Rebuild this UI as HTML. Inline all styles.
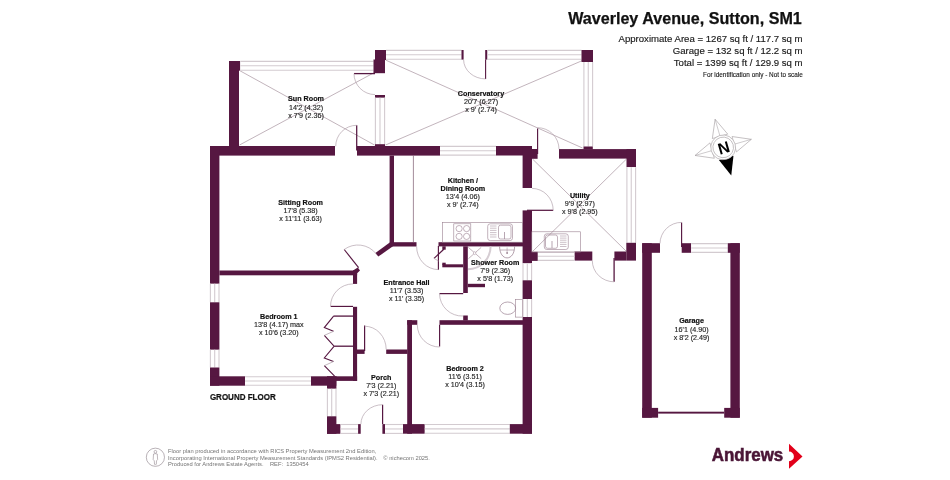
<!DOCTYPE html>
<html><head><meta charset="utf-8"><style>
html,body{margin:0;padding:0;background:#fff;}
body{width:950px;height:480px;overflow:hidden;}
svg{display:block;will-change:transform;}
.b{font:bold 7.2px "Liberation Sans",sans-serif;fill:#111111;text-anchor:middle;stroke:#111111;stroke-width:0.18px;}
.r{font:7.2px "Liberation Sans",sans-serif;fill:#262626;text-anchor:middle;stroke:#262626;stroke-width:0.15px;}
.gf{font:bold 8.6px "Liberation Sans",sans-serif;fill:#111;stroke:#111;stroke-width:0.2px;}
</style></head><body>
<svg width="950" height="480" viewBox="0 0 950 480">
<rect width="950" height="480" fill="#fff"/>
<line x1="239.5" y1="70.5" x2="374.5" y2="145" stroke="#a8949f" stroke-width="0.7"/>
<line x1="239.5" y1="145" x2="373.5" y2="73" stroke="#a8949f" stroke-width="0.7"/>
<line x1="385.5" y1="60" x2="582.5" y2="148" stroke="#a8949f" stroke-width="0.7"/>
<line x1="385.5" y1="145" x2="582.5" y2="60.5" stroke="#a8949f" stroke-width="0.7"/>
<line x1="532.5" y1="159" x2="626.5" y2="251.5" stroke="#a8949f" stroke-width="0.7"/>
<line x1="626.5" y1="159" x2="532.5" y2="251.5" stroke="#a8949f" stroke-width="0.7"/>
<rect x="229" y="61" width="10" height="85" fill="#561741"/>
<rect x="229" y="61" width="11.3" height="9.6" fill="#561741"/>
<rect x="240.3" y="61" width="133.2" height="9.6" fill="#fff"/>
<line x1="240.3" y1="61.4" x2="373.5" y2="61.4" stroke="#d3cbd0" stroke-width="1.1"/>
<line x1="240.3" y1="65.8" x2="373.5" y2="65.8" stroke="#d3cbd0" stroke-width="1.1"/>
<line x1="240.3" y1="70.19999999999999" x2="373.5" y2="70.19999999999999" stroke="#d3cbd0" stroke-width="1.1"/>
<rect x="375" y="50" width="11" height="10" fill="#561741"/>
<rect x="373.5" y="59.5" width="11.5" height="13.7" fill="#561741"/>
<line x1="354" y1="73.6" x2="375" y2="73.6" stroke="#561741" stroke-width="1.3"/>
<path d="M354,73.6 A21,21 0 0 0 375,94.6" stroke="#b3a3ad" stroke-width="0.7" fill="none"/>
<rect x="375" y="95" width="10" height="2.8" fill="#561741"/>
<rect x="375" y="97.8" width="10" height="46.6" fill="#fff"/>
<line x1="375.4" y1="97.8" x2="375.4" y2="144.4" stroke="#d3cbd0" stroke-width="1.1"/>
<line x1="380.0" y1="97.8" x2="380.0" y2="144.4" stroke="#d3cbd0" stroke-width="1.1"/>
<line x1="384.6" y1="97.8" x2="384.6" y2="144.4" stroke="#d3cbd0" stroke-width="1.1"/>
<rect x="375" y="144.2" width="10" height="2.0" fill="#561741"/>
<rect x="386" y="50" width="75.5" height="9.6" fill="#fff"/>
<line x1="386" y1="50.4" x2="461.5" y2="50.4" stroke="#d3cbd0" stroke-width="1.1"/>
<line x1="386" y1="54.8" x2="461.5" y2="54.8" stroke="#d3cbd0" stroke-width="1.1"/>
<line x1="386" y1="59.2" x2="461.5" y2="59.2" stroke="#d3cbd0" stroke-width="1.1"/>
<rect x="461.5" y="50" width="2.1" height="9.6" fill="#561741"/>
<rect x="485.2" y="50" width="2.3" height="9.6" fill="#561741"/>
<rect x="487.5" y="50" width="94.0" height="9.6" fill="#fff"/>
<line x1="487.5" y1="50.4" x2="581.5" y2="50.4" stroke="#d3cbd0" stroke-width="1.1"/>
<line x1="487.5" y1="54.8" x2="581.5" y2="54.8" stroke="#d3cbd0" stroke-width="1.1"/>
<line x1="487.5" y1="59.2" x2="581.5" y2="59.2" stroke="#d3cbd0" stroke-width="1.1"/>
<line x1="485.6" y1="59.6" x2="485.6" y2="78.9" stroke="#561741" stroke-width="1.1"/>
<path d="M463.6,59.6 A22,19.3 0 0 0 485.6,78.9" stroke="#b3a3ad" stroke-width="0.7" fill="none"/>
<rect x="581.5" y="50" width="11.5" height="12" fill="#561741"/>
<rect x="583.5" y="62" width="9.5" height="84.6" fill="#fff"/>
<line x1="583.9" y1="62" x2="583.9" y2="146.6" stroke="#d3cbd0" stroke-width="1.1"/>
<line x1="588.25" y1="62" x2="588.25" y2="146.6" stroke="#d3cbd0" stroke-width="1.1"/>
<line x1="592.6" y1="62" x2="592.6" y2="146.6" stroke="#d3cbd0" stroke-width="1.1"/>
<rect x="583.5" y="146.5" width="9.3" height="2.9" fill="#561741"/>
<rect x="210" y="146" width="125" height="9.6" fill="#561741"/>
<rect x="357" y="146" width="83" height="9.6" fill="#561741"/>
<line x1="356.7" y1="125.3" x2="356.7" y2="150.6" stroke="#561741" stroke-width="1.25"/>
<path d="M356.7,125.3 A21,21 0 0 0 335.7,146.3" stroke="#b3a3ad" stroke-width="0.7" fill="none"/>
<rect x="440" y="146" width="56" height="9.5" fill="#fff"/>
<line x1="440" y1="146.4" x2="496" y2="146.4" stroke="#d3cbd0" stroke-width="1.1"/>
<line x1="440" y1="150.75" x2="496" y2="150.75" stroke="#d3cbd0" stroke-width="1.1"/>
<line x1="440" y1="155.1" x2="496" y2="155.1" stroke="#d3cbd0" stroke-width="1.1"/>
<rect x="496" y="146" width="36" height="9.5" fill="#561741"/>
<rect x="532" y="149" width="5.6" height="9.8" fill="#561741"/>
<line x1="537.6" y1="128.5" x2="537.6" y2="154" stroke="#561741" stroke-width="1.15"/>
<path d="M537.6,127.7 A21.4,21.4 0 0 1 559,149.1" stroke="#b3a3ad" stroke-width="0.7" fill="none"/>
<rect x="559" y="149.1" width="77" height="9.5" fill="#561741"/>
<rect x="626.5" y="149.1" width="9.5" height="18.1" fill="#561741"/>
<rect x="626.5" y="167.2" width="9.5" height="75.6" fill="#fff"/>
<line x1="626.9" y1="167.2" x2="626.9" y2="242.8" stroke="#d3cbd0" stroke-width="1.1"/>
<line x1="631.25" y1="167.2" x2="631.25" y2="242.8" stroke="#d3cbd0" stroke-width="1.1"/>
<line x1="635.6" y1="167.2" x2="635.6" y2="242.8" stroke="#d3cbd0" stroke-width="1.1"/>
<rect x="626.3" y="242.8" width="9.7" height="17.8" fill="#561741"/>
<rect x="614.4" y="251.5" width="11.9" height="9.1" fill="#561741"/>
<rect x="574.4" y="251.5" width="17.9" height="9.1" fill="#561741"/>
<line x1="614.1" y1="258" x2="614.1" y2="281.8" stroke="#561741" stroke-width="1.3"/>
<path d="M592.3,260.6 A21.8,21.2 0 0 0 614.1,281.8" stroke="#b3a3ad" stroke-width="0.7" fill="none"/>
<rect x="537.7" y="251.8" width="36.7" height="9.0" fill="#fff"/>
<line x1="537.7" y1="252.20000000000002" x2="574.4" y2="252.20000000000002" stroke="#d3cbd0" stroke-width="1.1"/>
<line x1="537.7" y1="256.3" x2="574.4" y2="256.3" stroke="#d3cbd0" stroke-width="1.1"/>
<line x1="537.7" y1="260.40000000000003" x2="574.4" y2="260.40000000000003" stroke="#d3cbd0" stroke-width="1.1"/>
<rect x="531.6" y="251.8" width="6.1" height="9.1" fill="#561741"/>
<rect x="522.6" y="146" width="9.4" height="42" fill="#561741"/>
<rect x="522.6" y="210.4" width="9.4" height="53.0" fill="#561741"/>
<line x1="527" y1="210.3" x2="553.2" y2="210.3" stroke="#561741" stroke-width="1.25"/>
<path d="M532,188.4 A21.2,21.9 0 0 1 553.2,210.3" stroke="#b3a3ad" stroke-width="0.7" fill="none"/>
<rect x="389.6" y="155.6" width="4.4" height="88.9" fill="#561741"/>
<rect x="390" y="242.2" width="26.5" height="4.3" fill="#561741"/>
<polygon points="390.1,242.3 394,242.3 394,245.5 378.3,256.6 375.4,253.0" fill="#561741"/>
<polygon points="353,270.4 357.8,267.4 360,270.4 357.1,273.2 357.1,275.3 353,275.3" fill="#561741"/>
<line x1="344.2" y1="249.5" x2="358.6" y2="267.6" stroke="#561741" stroke-width="1.15"/>
<path d="M344.2,249.5 A23.2,23.2 0 0 1 375.9,253.5" stroke="#b3a3ad" stroke-width="0.7" fill="none"/>
<rect x="438.5" y="242.2" width="93.5" height="4.2" fill="#561741"/>
<line x1="438.4" y1="246" x2="438.4" y2="269.8" stroke="#561741" stroke-width="1.15"/>
<path d="M416.6,246.4 A21.8,23.2 0 0 0 438.4,269.6" stroke="#b3a3ad" stroke-width="0.7" fill="none"/>
<rect x="442.3" y="246.3" width="3.4" height="3.4" fill="#561741"/>
<rect x="442.3" y="262.7" width="3.4" height="2.3" fill="#561741"/>
<rect x="442.3" y="264.3" width="20.9" height="3.0" fill="#561741"/>
<line x1="443.8" y1="249.3" x2="434" y2="258.4" stroke="#561741" stroke-width="1.2"/>
<line x1="434" y1="258.4" x2="438.6" y2="261" stroke="#b3a3ad" stroke-width="0.7"/>
<line x1="413.4" y1="155.6" x2="413.4" y2="242.2" stroke="#7d5a70" stroke-width="0.7"/>
<rect x="463.2" y="246.3" width="4.6" height="46.7" fill="#561741"/>
<rect x="463.2" y="315.5" width="4.6" height="5.0" fill="#561741"/>
<rect x="467.8" y="283.8" width="17.2" height="3.4" fill="#561741"/>
<rect x="522.6" y="263.4" width="9.4" height="16.9" fill="#fff"/>
<line x1="523.0" y1="263.4" x2="523.0" y2="280.3" stroke="#d3cbd0" stroke-width="1.1"/>
<line x1="527.3" y1="263.4" x2="527.3" y2="280.3" stroke="#d3cbd0" stroke-width="1.1"/>
<line x1="531.6" y1="263.4" x2="531.6" y2="280.3" stroke="#d3cbd0" stroke-width="1.1"/>
<rect x="522.6" y="280.3" width="9.4" height="18.7" fill="#561741"/>
<rect x="522.6" y="299" width="9.4" height="18" fill="#fff"/>
<line x1="523.0" y1="299" x2="523.0" y2="317" stroke="#d3cbd0" stroke-width="1.1"/>
<line x1="527.3" y1="299" x2="527.3" y2="317" stroke="#d3cbd0" stroke-width="1.1"/>
<line x1="531.6" y1="299" x2="531.6" y2="317" stroke="#d3cbd0" stroke-width="1.1"/>
<rect x="522.6" y="317" width="9.4" height="116.7" fill="#561741"/>
<line x1="439.5" y1="293.6" x2="463.2" y2="293.6" stroke="#561741" stroke-width="1.25"/>
<path d="M439.5,293.6 A22.6,22.6 0 0 0 463.2,316" stroke="#b3a3ad" stroke-width="0.7" fill="none"/>
<rect x="439.5" y="320.2" width="92.5" height="4.6" fill="#561741"/>
<rect x="407.2" y="320.2" width="4.8" height="113.5" fill="#561741"/>
<rect x="407.2" y="320.2" width="10.1" height="4.6" fill="#561741"/>
<line x1="439.6" y1="324.8" x2="439.6" y2="346.6" stroke="#561741" stroke-width="1.15"/>
<path d="M417.3,324.8 A22.2,22.2 0 0 0 439.6,347" stroke="#b3a3ad" stroke-width="0.7" fill="none"/>
<rect x="403" y="424.1" width="21.8" height="9.6" fill="#561741"/>
<rect x="424.8" y="424.1" width="85.0" height="9.6" fill="#fff"/>
<line x1="424.8" y1="424.5" x2="509.8" y2="424.5" stroke="#d3cbd0" stroke-width="1.1"/>
<line x1="424.8" y1="428.9" x2="509.8" y2="428.9" stroke="#d3cbd0" stroke-width="1.1"/>
<line x1="424.8" y1="433.3" x2="509.8" y2="433.3" stroke="#d3cbd0" stroke-width="1.1"/>
<rect x="509.8" y="424.1" width="22.2" height="9.6" fill="#561741"/>
<rect x="386.2" y="349.5" width="21.3" height="4.4" fill="#561741"/>
<rect x="353" y="349.5" width="11.6" height="4.4" fill="#561741"/>
<line x1="364.6" y1="325.6" x2="364.6" y2="351" stroke="#561741" stroke-width="1.2"/>
<path d="M364.6,326.2 A21.6,23.3 0 0 1 386.2,349.5" stroke="#b3a3ad" stroke-width="0.7" fill="none"/>
<rect x="327" y="424.1" width="13.6" height="9.7" fill="#561741"/>
<rect x="340.6" y="424.1" width="17.5" height="9.7" fill="#fff"/>
<line x1="340.6" y1="424.5" x2="358.1" y2="424.5" stroke="#d3cbd0" stroke-width="1.1"/>
<line x1="340.6" y1="428.95000000000005" x2="358.1" y2="428.95000000000005" stroke="#d3cbd0" stroke-width="1.1"/>
<line x1="340.6" y1="433.40000000000003" x2="358.1" y2="433.40000000000003" stroke="#d3cbd0" stroke-width="1.1"/>
<rect x="358.1" y="424.1" width="2.6" height="9.7" fill="#561741"/>
<line x1="382.6" y1="404.7" x2="382.6" y2="424.1" stroke="#561741" stroke-width="1.2"/>
<path d="M360.9,424.1 A21.7,19.4 0 0 1 382.6,404.7" stroke="#b3a3ad" stroke-width="0.7" fill="none"/>
<rect x="382.4" y="424.1" width="2.6" height="9.7" fill="#561741"/>
<rect x="385" y="424.1" width="18" height="9.7" fill="#fff"/>
<line x1="385" y1="424.5" x2="403" y2="424.5" stroke="#d3cbd0" stroke-width="1.1"/>
<line x1="385" y1="428.95000000000005" x2="403" y2="428.95000000000005" stroke="#d3cbd0" stroke-width="1.1"/>
<line x1="385" y1="433.40000000000003" x2="403" y2="433.40000000000003" stroke="#d3cbd0" stroke-width="1.1"/>
<rect x="327" y="376.2" width="9.4" height="12.6" fill="#561741"/>
<rect x="327" y="388.8" width="9.4" height="27.5" fill="#fff"/>
<line x1="327.4" y1="388.8" x2="327.4" y2="416.3" stroke="#d3cbd0" stroke-width="1.1"/>
<line x1="331.7" y1="388.8" x2="331.7" y2="416.3" stroke="#d3cbd0" stroke-width="1.1"/>
<line x1="336.0" y1="388.8" x2="336.0" y2="416.3" stroke="#d3cbd0" stroke-width="1.1"/>
<rect x="327" y="416.3" width="9.4" height="17.5" fill="#561741"/>
<rect x="210" y="146" width="9.4" height="137.8" fill="#561741"/>
<rect x="210" y="283.8" width="9.4" height="18.5" fill="#fff"/>
<line x1="210.4" y1="283.8" x2="210.4" y2="302.3" stroke="#d3cbd0" stroke-width="1.1"/>
<line x1="214.7" y1="283.8" x2="214.7" y2="302.3" stroke="#d3cbd0" stroke-width="1.1"/>
<line x1="219.0" y1="283.8" x2="219.0" y2="302.3" stroke="#d3cbd0" stroke-width="1.1"/>
<rect x="210" y="302.3" width="9.4" height="47.5" fill="#561741"/>
<rect x="210" y="349.8" width="9.4" height="17.7" fill="#fff"/>
<line x1="210.4" y1="349.8" x2="210.4" y2="367.5" stroke="#d3cbd0" stroke-width="1.1"/>
<line x1="214.7" y1="349.8" x2="214.7" y2="367.5" stroke="#d3cbd0" stroke-width="1.1"/>
<line x1="219.0" y1="349.8" x2="219.0" y2="367.5" stroke="#d3cbd0" stroke-width="1.1"/>
<rect x="210" y="367.5" width="9.4" height="18.2" fill="#561741"/>
<rect x="210" y="376.3" width="35" height="9.4" fill="#561741"/>
<rect x="245" y="376.3" width="66" height="9.4" fill="#fff"/>
<line x1="245" y1="376.7" x2="311" y2="376.7" stroke="#d3cbd0" stroke-width="1.1"/>
<line x1="245" y1="381.0" x2="311" y2="381.0" stroke="#d3cbd0" stroke-width="1.1"/>
<line x1="245" y1="385.3" x2="311" y2="385.3" stroke="#d3cbd0" stroke-width="1.1"/>
<rect x="311" y="376.3" width="25.3" height="9.4" fill="#561741"/>
<rect x="336" y="376.3" width="21.1" height="4.6" fill="#561741"/>
<rect x="353" y="270.4" width="4.1" height="13.5" fill="#561741"/>
<rect x="353" y="306.8" width="4.1" height="74.1" fill="#561741"/>
<rect x="219.4" y="270.5" width="133.6" height="4.8" fill="#561741"/>
<line x1="330.7" y1="306.4" x2="353" y2="306.4" stroke="#561741" stroke-width="1.15"/>
<path d="M330.5,306.4 A22.5,22.5 0 0 1 353,283.9" stroke="#b3a3ad" stroke-width="0.7" fill="none"/>
<line x1="333.5" y1="316.1" x2="353" y2="316.1" stroke="#561741" stroke-width="1.3"/>
<path d="M333.6,316.1 L324.3,327.6 L333.5,331.3 M324.3,335.4 L333.8,345.9" stroke="#561741" stroke-width="1.1" fill="none"/>
<line x1="333.5" y1="331.3" x2="324.3" y2="335.4" stroke="#b3a3ad" stroke-width="0.8"/>
<line x1="333.8" y1="346.2" x2="353" y2="346.2" stroke="#561741" stroke-width="1.3"/>
<path d="M334,346.4 L324.3,357.9 L333.5,361.5 M324.3,365.7 L334.6,376.2" stroke="#561741" stroke-width="1.1" fill="none"/>
<line x1="333.5" y1="361.5" x2="324.3" y2="365.7" stroke="#b3a3ad" stroke-width="0.8"/>
<rect x="642.2" y="243.2" width="9.6" height="174.5" fill="#561741"/>
<rect x="642.2" y="243.2" width="17.8" height="9.6" fill="#561741"/>
<rect x="681.7" y="243.2" width="9.5" height="9.6" fill="#561741"/>
<rect x="691.2" y="243.2" width="36.6" height="9.6" fill="#fff"/>
<line x1="691.2" y1="243.6" x2="727.8" y2="243.6" stroke="#d3cbd0" stroke-width="1.1"/>
<line x1="691.2" y1="248.0" x2="727.8" y2="248.0" stroke="#d3cbd0" stroke-width="1.1"/>
<line x1="691.2" y1="252.4" x2="727.8" y2="252.4" stroke="#d3cbd0" stroke-width="1.1"/>
<rect x="727.8" y="243.2" width="12.0" height="9.6" fill="#561741"/>
<rect x="730.4" y="243.2" width="9.4" height="174.5" fill="#561741"/>
<rect x="642.2" y="407.9" width="15.9" height="9.8" fill="#561741"/>
<rect x="724.2" y="407.9" width="15.6" height="9.8" fill="#561741"/>
<rect x="658.1" y="411.7" width="66.1" height="1.9" fill="#561741"/>
<line x1="681.6" y1="222.6" x2="681.6" y2="247" stroke="#561741" stroke-width="1.15"/>
<path d="M660,243.4 A21.4,21.4 0 0 1 681.6,222.4" stroke="#b3a3ad" stroke-width="0.7" fill="none"/>
<rect x="442.6" y="222.5" width="80" height="19.7" fill="none" stroke="#9a8090" stroke-width="0.6"/>
<rect x="453.8" y="223.8" width="17" height="17.2" fill="none" stroke="#9a8090" stroke-width="0.6"/>
<circle cx="459.1" cy="228.6" r="3.1" fill="none" stroke="#9a8090" stroke-width="0.6"/>
<circle cx="466.6" cy="228.6" r="3.1" fill="none" stroke="#9a8090" stroke-width="0.6"/>
<circle cx="459.1" cy="236.4" r="3.1" fill="none" stroke="#9a8090" stroke-width="0.6"/>
<circle cx="466.6" cy="236.4" r="3.1" fill="none" stroke="#9a8090" stroke-width="0.6"/>
<rect x="487.7" y="223.8" width="24.8" height="16.8" rx="2.5" fill="none" stroke="#9a8090" stroke-width="0.6"/>
<rect x="498.5" y="225.2" width="12.5" height="13.8" rx="2" fill="none" stroke="#9a8090" stroke-width="0.6"/>
<line x1="490" y1="226.0" x2="496.5" y2="226.0" stroke="#9a8090" stroke-width="0.5"/>
<line x1="490" y1="228.2" x2="496.5" y2="228.2" stroke="#9a8090" stroke-width="0.5"/>
<line x1="490" y1="230.4" x2="496.5" y2="230.4" stroke="#9a8090" stroke-width="0.5"/>
<line x1="490" y1="232.6" x2="496.5" y2="232.6" stroke="#9a8090" stroke-width="0.5"/>
<line x1="490" y1="234.8" x2="496.5" y2="234.8" stroke="#9a8090" stroke-width="0.5"/>
<line x1="490" y1="237.0" x2="496.5" y2="237.0" stroke="#9a8090" stroke-width="0.5"/>
<line x1="504.5" y1="232" x2="504.5" y2="239" stroke="#9a8090" stroke-width="0.7"/>
<rect x="531.8" y="231.8" width="48.8" height="20.2" fill="none" stroke="#9a8090" stroke-width="0.6"/>
<rect x="544.3" y="233.8" width="24" height="15.7" rx="2.5" fill="none" stroke="#9a8090" stroke-width="0.6"/>
<rect x="545.5" y="235" width="12" height="13.3" rx="2" fill="none" stroke="#9a8090" stroke-width="0.6"/>
<line x1="560" y1="236.0" x2="566.5" y2="236.0" stroke="#9a8090" stroke-width="0.5"/>
<line x1="560" y1="238.1" x2="566.5" y2="238.1" stroke="#9a8090" stroke-width="0.5"/>
<line x1="560" y1="240.2" x2="566.5" y2="240.2" stroke="#9a8090" stroke-width="0.5"/>
<line x1="560" y1="242.3" x2="566.5" y2="242.3" stroke="#9a8090" stroke-width="0.5"/>
<line x1="560" y1="244.4" x2="566.5" y2="244.4" stroke="#9a8090" stroke-width="0.5"/>
<line x1="560" y1="246.5" x2="566.5" y2="246.5" stroke="#9a8090" stroke-width="0.5"/>
<line x1="552" y1="241" x2="552" y2="248" stroke="#9a8090" stroke-width="0.7"/>
<path d="M490.6,246.5 A22.8,22.8 0 0 1 468,269.3" fill="none" stroke="#d6cdd3" stroke-width="2"/>
<path d="M468.4,247.4 L481.2,258.7 M481.2,247.4 L468.4,258.7" stroke="#9a8090" stroke-width="0.6"/>
<rect x="473.6" y="252" width="2.2" height="2.2" fill="#fff" stroke="#9a8090" stroke-width="0.5" transform="rotate(45 474.7 253.1)"/>
<path d="M499.6,246.4 C499.6,253.5 503,257.9 507.1,257.9 C511.2,257.9 514.6,253.5 514.6,246.4" fill="none" stroke="#9a8090" stroke-width="0.75"/>
<line x1="500.2" y1="250" x2="514" y2="250" stroke="#9a8090" stroke-width="0.6"/>
<line x1="507.1" y1="247.5" x2="507.1" y2="252.5" stroke="#9a8090" stroke-width="0.5"/>
<circle cx="507.1" cy="253" r="0.9" fill="#9a8090"/>
<rect x="515.6" y="299.3" width="7" height="17.8" fill="#fff" stroke="#9a8090" stroke-width="0.6"/>
<ellipse cx="507.7" cy="308.2" rx="7.9" ry="6.2" fill="none" stroke="#9a8090" stroke-width="0.7"/>
<text x="306" y="101.25" class="b">Sun Room</text>
<text x="306" y="109.5" class="r">14'2 (4.32)</text>
<text x="306" y="117.75" class="r">x 7'9 (2.36)</text>
<text x="481" y="95.8" class="b">Conservatory</text>
<text x="481" y="104.05" class="r">20'7 (6.27)</text>
<text x="481" y="112.3" class="r">x 9' (2.74)</text>
<text x="300.6" y="204.5" class="b">Sitting Room</text>
<text x="300.6" y="212.75" class="r">17'8 (5.38)</text>
<text x="300.6" y="221.0" class="r">x 11'11 (3.63)</text>
<text x="462.9" y="182.5" class="b">Kitchen /</text>
<text x="462.9" y="190.75" class="b">Dining Room</text>
<text x="462.9" y="199.0" class="r">13'4 (4.06)</text>
<text x="462.9" y="207.25" class="r">x 9' (2.74)</text>
<text x="579.9" y="197.9" class="b">Utility</text>
<text x="579.9" y="206.15" class="r">9'9 (2.97)</text>
<text x="579.9" y="214.4" class="r">x 9'8 (2.95)</text>
<text x="406.5" y="284.65" class="b">Entrance Hall</text>
<text x="406.5" y="292.9" class="r">11'7 (3.53)</text>
<text x="406.5" y="301.15" class="r">x 11' (3.35)</text>
<text x="495.2" y="264.6" class="b">Shower Room</text>
<text x="495.2" y="272.85" class="r">7'9 (2.36)</text>
<text x="495.2" y="281.1" class="r">x 5'8 (1.73)</text>
<text x="278.8" y="318.5" class="b">Bedroom 1</text>
<text x="278.8" y="326.75" class="r">13'8 (4.17) max</text>
<text x="278.8" y="335.0" class="r">x 10'6 (3.20)</text>
<text x="465" y="370.5" class="b">Bedroom 2</text>
<text x="465" y="378.75" class="r">11'6 (3.51)</text>
<text x="465" y="387.0" class="r">x 10'4 (3.15)</text>
<text x="381.25" y="379.75" class="b">Porch</text>
<text x="381.25" y="388.0" class="r">7'3 (2.21)</text>
<text x="381.25" y="396.25" class="r">x 7'3 (2.21)</text>
<text x="691.6" y="323.25" class="b">Garage</text>
<text x="691.6" y="331.5" class="r">16'1 (4.90)</text>
<text x="691.6" y="339.75" class="r">x 8'2 (2.49)</text>
<text x="209.9" y="399.6" class="gf" textLength="65.8" lengthAdjust="spacingAndGlyphs">GROUND FLOOR</text>
<g transform="translate(723.2,147.4) rotate(-16)"><g transform="rotate(0)"><polygon points="-8,-11.5 0,-29.3 8,-11.5" fill="#fff" stroke="#a6a0a3" stroke-width="0.6"/><line x1="0" y1="-29.3" x2="0" y2="-12" stroke="#a6a0a3" stroke-width="0.5"/></g><g transform="rotate(90)"><polygon points="-8,-11.5 0,-29.3 8,-11.5" fill="#fff" stroke="#a6a0a3" stroke-width="0.6"/><line x1="0" y1="-29.3" x2="0" y2="-12" stroke="#a6a0a3" stroke-width="0.5"/></g><g transform="rotate(270)"><polygon points="-8,-11.5 0,-29.3 8,-11.5" fill="#fff" stroke="#a6a0a3" stroke-width="0.6"/><line x1="0" y1="-29.3" x2="0" y2="-12" stroke="#a6a0a3" stroke-width="0.5"/></g><polygon points="-7.6,10.8 0,29.3 7.6,10.8" fill="#000"/><circle r="12.4" fill="#fff" stroke="#a6a0a3" stroke-width="0.6"/><circle r="10.3" fill="#fff" stroke="#a6a0a3" stroke-width="0.6"/><text x="0.3" y="6.2" text-anchor="middle" style="font:bold 16px 'Liberation Sans',sans-serif" fill="#000">N</text></g>
<text x="801.8" y="24.2" text-anchor="end" textLength="233.6" lengthAdjust="spacingAndGlyphs" style="font:bold 15.6px 'Liberation Sans',sans-serif" fill="#111" stroke="#111" stroke-width="0.25">Waverley Avenue, Sutton, SM1</text>
<text x="802.6" y="42.3" text-anchor="end" style="font:9.6px 'Liberation Sans',sans-serif" fill="#1a1a1a" stroke="#1a1a1a" stroke-width="0.15">Approximate Area = 1267 sq ft / 117.7 sq m</text>
<text x="802.6" y="54.0" text-anchor="end" style="font:9.6px 'Liberation Sans',sans-serif" fill="#1a1a1a" stroke="#1a1a1a" stroke-width="0.15">Garage = 132 sq ft / 12.2 sq m</text>
<text x="802.6" y="65.6" text-anchor="end" style="font:9.6px 'Liberation Sans',sans-serif" fill="#1a1a1a" stroke="#1a1a1a" stroke-width="0.15">Total = 1399 sq ft / 129.9 sq m</text>
<text x="802.8" y="76.9" text-anchor="end" style="font:6.4px 'Liberation Sans',sans-serif" fill="#1a1a1a" stroke="#1a1a1a" stroke-width="0.12">For identification only - Not to scale</text>
<circle cx="155.4" cy="457.25" r="9.1" fill="none" stroke="#8a7d86" stroke-width="0.6"/>
<circle cx="155.4" cy="451.8" r="1.35" fill="none" stroke="#8a7d86" stroke-width="0.55"/>
<path d="M153.5,454 Q155.4,453.3 157.3,454 L157.6,459.6 Q156.6,460.5 156.5,461 L156.3,464.3 Q155.4,465 154.5,464.3 L154.3,461 Q154.2,460.5 153.2,459.6 Z" fill="none" stroke="#8a7d86" stroke-width="0.55"/>
<text x="168" y="452.7" style="font:5.78px 'Liberation Sans',sans-serif" fill="#757575">Floor plan produced in accordance with RICS Property Measurement 2nd Edition,</text>
<text x="168" y="459.8" style="font:5.78px 'Liberation Sans',sans-serif" fill="#757575">Incorporating International Property Measurement Standards (IPMS2 Residential).</text>
<text x="168" y="466.4" style="font:5.78px 'Liberation Sans',sans-serif" fill="#757575">Produced for Andrews Estate Agents.&#160;&#160;&#160; REF:&#160; 1350454</text>
<text x="383.3" y="459.8" style="font:5.78px 'Liberation Sans',sans-serif" fill="#757575">© nichecom 2025.</text>
<text x="711.8" y="460.5" textLength="71.4" lengthAdjust="spacingAndGlyphs" style="font:bold 17.6px 'Liberation Sans',sans-serif" fill="#4a1536" stroke="#4a1536" stroke-width="0.55">Andrews</text>
<path d="M789,443.85 L802.5,456.4 L789,468.75 L789,461.3 A4.9,4.9 0 0 0 789,451.5 Z" fill="#e2001a"/>
</svg>
</body></html>
